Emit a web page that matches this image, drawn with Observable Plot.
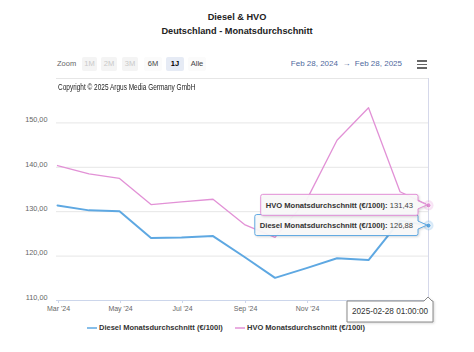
<!DOCTYPE html>
<html><head><meta charset="utf-8">
<script src="https://cdn.jsdelivr.net/npm/d3@7"></script>
<script src="https://cdn.jsdelivr.net/npm/@observablehq/plot@0.6"></script>
<style>
body{margin:0;background:#fff;font-family:"Liberation Sans",Arial,sans-serif;}
#wrap{position:relative;width:474px;height:352px;overflow:hidden;background:#fff;}
#wrap > svg{position:absolute;left:0;top:0;}
.ov{position:absolute;white-space:nowrap;}
.btn{position:absolute;top:57px;height:14px;line-height:14px;text-align:center;font-size:7.5px;border-radius:2px;}
</style></head><body><div id="wrap"></div>
<script>
// ---- data ----
const dates = ["2024-02-29","2024-03-31","2024-04-30","2024-05-31","2024-06-30","2024-07-31","2024-08-31","2024-09-30","2024-10-31","2024-11-30","2024-12-31","2025-01-31","2025-02-28"];
const diesel = [131.4, 130.3, 130.1, 124.1, 124.2, 124.5, 119.8, 115.1, 117.3, 119.5, 119.1, 128.0, 126.88];
const hvo    = [140.4, 138.5, 137.5, 131.6, 132.2, 132.8, 127.1, 124.2, 132.6, 146.1, 153.4, 134.5, 131.43];
const seriesNames = ["Diesel Monatsdurchschnitt (€/100l)", "HVO Monatsdurchschnitt (€/100l)"];
const colors = ["#5ea8e2", "#e291d6"];
const yTicks = [110, 120, 130, 140, 150];
const gridTicks = [120, 130, 140, 150, 160];
const xTicks = ["2024-03-01","2024-05-01","2024-07-01","2024-09-01","2024-11-01"];
const monthNames = ["Jan","Feb","Mar","Apr","May","Jun","Jul","Aug","Sep","Oct","Nov","Dec"];
const xDomain = ["2024-02-28","2025-02-28"];
const title = "Diesel & HVO";
const subtitle = "Deutschland - Monatsdurchschnitt";
const copyright = "Copyright © 2025 Argus Media Germany GmbH";
const zoomButtons = ["1M","2M","3M","6M","1J","Alle"];
const rangeText = "Feb 28, 2024  \u2192  Feb 28, 2025";
const hoverLabel = "2025-02-28 01:00:00";

// ---- table ----
const rows = [];
dates.forEach((d, i) => {
  rows.push({date: new Date(d), value: diesel[i], series: seriesNames[0]});
  rows.push({date: new Date(d), value: hvo[i], series: seriesNames[1]});
});
const comma2 = v => v.toFixed(2).replace(".", ",");
const fmtX = d => `${monthNames[d.getUTCMonth()]} '${String(d.getUTCFullYear()).slice(2)}`;
const last = new Date(dates[dates.length - 1]);
const lastPts = [
  {date: last, value: hvo[hvo.length-1], c: colors[1]},
  {date: last, value: diesel[diesel.length-1], c: colors[0]}
];

const plot = Plot.plot({
  width: 474, height: 352,
  marginLeft: 56, marginRight: 46, marginTop: 78, marginBottom: 52,
  style: {fontFamily: "'Liberation Sans', Arial, sans-serif", fontSize: "7px", background: "transparent", overflow: "visible"},
  x: {type: "utc", domain: xDomain.map(d => new Date(d))},
  y: {domain: [110, 160]},
  marks: [
    Plot.gridY(gridTicks, {stroke: "#e6e6e6", strokeOpacity: 1}),
    Plot.ruleY([110], {stroke: "#ccd6eb"}),
    Plot.axisX(xTicks.map(d => new Date(d)), {tickSize: 3, tickPadding: 3, tickFormat: fmtX, stroke: "#ccd6eb", fill: "#666", fontSize: 7, label: null}),
    Plot.axisY(yTicks, {tickSize: 0, tickPadding: 9, tickFormat: comma2, dy: -3, fill: "#666", fontSize: 7.3, label: null}),
    Plot.ruleX([last], {stroke: "#d5d8ea", strokeWidth: 1}),
    Plot.line(rows.filter(r => r.series === seriesNames[1]), {x: "date", y: "value", stroke: colors[1], strokeWidth: 1.3}),
    Plot.line(rows.filter(r => r.series === seriesNames[0]), {x: "date", y: "value", stroke: colors[0], strokeWidth: 2}),
    Plot.dot(lastPts, {x: "date", y: "value", r: 5, fill: d => d.c, fillOpacity: 0.25, stroke: "none"}),
    Plot.dot(lastPts, {x: "date", y: "value", r: 2.6, fill: d => d.c, stroke: "#fff", strokeWidth: 1})
  ]
});
const wrap = document.getElementById("wrap");
wrap.appendChild(plot);

const X = v => plot.scale("x").apply(v);
const Y = v => plot.scale("y").apply(v);
const svg = d3.select(plot);
const xl = X(last);

// tooltips
function tooltip(name, value, color) {
  const yp = Y(value);
  const g = svg.append("g");
  const path = g.append("path");
  const t = g.append("text").attr("y", yp).attr("dy", "0.35em").attr("text-anchor", "start").style("font-size", "7.6px");
  t.append("tspan").attr("font-weight", "bold").attr("fill", "#333").text(name + ":");
  t.append("tspan").attr("fill", "#444").text(" " + comma2(value));
  const w = t.node().getComputedTextLength() + 10;
  const x1 = xl - 10, x0 = x1 - w, y0 = yp - 10.5, y1 = yp + 10.5, r = 2;
  t.attr("x", x0 + 5);
  path.attr("d", `M${x0+r},${y0}H${x1-r}Q${x1},${y0} ${x1},${y0+r}V${yp-4}L${xl-1},${yp}L${x1},${yp+4}V${y1-r}Q${x1},${y1} ${x1-r},${y1}H${x0+r}Q${x0},${y1} ${x0},${y1-r}V${y0+r}Q${x0},${y0} ${x0+r},${y0}Z`)
    .attr("fill", "rgba(250,250,250,0.93)").attr("stroke", color).attr("stroke-width", 1)
    .style("filter", "drop-shadow(1px 1px 1px rgba(0,0,0,0.15))");
}
tooltip(seriesNames[0], diesel[diesel.length-1], colors[0]);
tooltip(seriesNames[1], hvo[hvo.length-1], colors[1]);

// date label
{
  const yb = Y(110);
  const x0 = 347, x1 = xl + 5, y0 = yb + 1, y1 = yb + 22;
  const g = svg.append("g");
  g.append("path").attr("d", `M${x0},${y0}H${xl-4}L${xl},${y0-4}L${xl+4},${y0}H${x1}V${y1}H${x0}Z`)
    .attr("fill", "#fff").attr("stroke", "#8a8a8a").attr("stroke-width", 1)
    .style("filter", "drop-shadow(1px 1px 1px rgba(0,0,0,0.15))");
  g.append("text").attr("x", (x0 + x1) / 2).attr("y", (y0 + y1) / 2).attr("dy", "0.35em")
    .attr("text-anchor", "middle").style("font-size", "8.2px").attr("fill", "#333").text(hoverLabel);
}

// ---- HTML overlays ----
function ov(html, css) { const d = document.createElement("div"); d.className = "ov"; d.innerHTML = html; Object.assign(d.style, css); wrap.appendChild(d); return d; }
ov(title, {left: "0", width: "474px", top: "11px", textAlign: "center", fontWeight: "bold", fontSize: "9.2px", lineHeight: "12px", color: "#222"});
ov(subtitle, {left: "0", width: "474px", top: "25px", textAlign: "center", fontWeight: "bold", fontSize: "9.2px", lineHeight: "12px", color: "#222"});
ov("Zoom", {left: "57px", top: "57px", lineHeight: "14px", fontSize: "7.5px", color: "#666"});
const btnLeft = [82, 101, 122, 144, 166, 188];
const btnW = [15, 16, 16, 18, 18, 18];
zoomButtons.forEach((b, i) => {
  const d = document.createElement("div");
  d.className = "btn"; d.textContent = b;
  const dis = i < 3, sel = b === "1J";
  Object.assign(d.style, {left: btnLeft[i] + "px", width: btnW[i] + "px",
    background: sel ? "#e6ebf5" : (dis ? "#f4f4f4" : "#fbfbfb"),
    color: dis ? "#c8c8c8" : (sel ? "#000" : "#444"), fontWeight: sel ? "bold" : "normal"});
  wrap.appendChild(d);
});
ov(rangeText.replace(/ /g, "&nbsp;"), {right: "72px", top: "57px", lineHeight: "14px", fontSize: "8px", color: "#4f6a9e"});
[60, 63.6, 67.2].forEach(y => ov("", {left: "417px", top: y + "px", width: "10px", height: "1.6px", background: "#666"}));
ov(`<span style="display:inline-block;transform:scaleX(0.72);transform-origin:0 50%">${copyright}</span>`, {left: "58px", top: "81px", lineHeight: "12px", fontSize: "9px", color: "#222"});
// legend
const legX = [87, 235];
seriesNames.forEach((s, i) => {
  ov("", {left: legX[i] + "px", top: "327px", width: "10px", height: "1.6px", background: colors[i], opacity: 0.75});
  ov(s, {left: (legX[i] + 12) + "px", top: "322px", lineHeight: "12px", fontSize: "7.5px", fontWeight: "bold", color: "#333"});
});
</script></body></html>
